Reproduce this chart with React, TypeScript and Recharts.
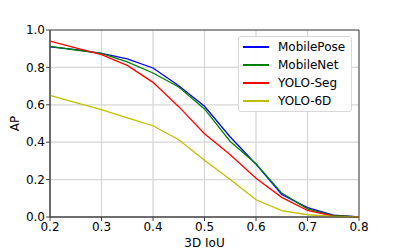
import * as React from 'react';
import { LineChart, Line, XAxis, YAxis, CartesianGrid, ReferenceArea } from 'recharts';

const IOU = [0.2, 0.25, 0.3, 0.35, 0.4, 0.45, 0.5, 0.55, 0.6, 0.65, 0.7, 0.75, 0.8];
const MOBILE_POSE = [0.91, 0.895, 0.875, 0.846, 0.797, 0.702, 0.592, 0.428, 0.283, 0.12, 0.05, 0.01, 0.0];
const MOBILE_NET = [0.912, 0.893, 0.875, 0.829, 0.77, 0.695, 0.578, 0.404, 0.285, 0.128, 0.044, 0.008, 0.0];
const YOLO_SEG = [0.94, 0.905, 0.868, 0.811, 0.72, 0.59, 0.445, 0.333, 0.207, 0.105, 0.035, 0.005, 0.0];
const YOLO_6D = [0.65, 0.612, 0.574, 0.53, 0.488, 0.413, 0.303, 0.2, 0.092, 0.034, 0.012, 0.003, 0.0];

const X_TICKS = [0.2, 0.3, 0.4, 0.5, 0.6, 0.7, 0.8];
const Y_TICKS = [0, 0.2, 0.4, 0.6, 0.8, 1.0];

const SERIES = [
  { key: 'MobilePose', values: MOBILE_POSE, color: '#0000ff' },
  { key: 'MobileNet', values: MOBILE_NET, color: '#008000' },
  { key: 'YOLO-Seg', values: YOLO_SEG, color: '#ff0000' },
  { key: 'YOLO-6D', values: YOLO_6D, color: '#bfbf00' },
];

const FONT = '"DejaVu Sans", sans-serif';
const SPINE = '#444';

const data = IOU.map((x, i) => {
  const row: any = { iou: x };
  SERIES.forEach(s => { row[s.key] = s.values[i]; });
  return row;
});

// legend drawn over the plot, like matplotlib's upper right box
const LegendBox = () => (
  <div style={{
    position: 'absolute', left: 238, top: 36,
    width: 114, height: 76, boxSizing: 'border-box', border: '1px solid #d8d8d8',
    borderRadius: 3, background: 'rgba(255,255,255,0.85)', paddingTop: 1,
  }}>
    {SERIES.map(s => (
      <div key={s.key} style={{ display: 'flex', alignItems: 'center', height: 18, fontFamily: FONT, fontSize: 12, color: '#000' }}>
        <div style={{ width: 26, height: 1.3, background: s.color, marginLeft: 4, marginRight: 9 }} />
        <span>{s.key}</span>
      </div>
    ))}
  </div>
);

const tickStyle = { fontFamily: FONT, fontSize: 12, fill: '#000' };

export default function App() {
  return (
    <div style={{ position: 'absolute', left: 0, top: 0, width: 399, height: 249 }}>
      <LineChart width={399} height={249} data={data} margin={{ top: 30, right: 40, left: 0, bottom: 0 }}>
        <CartesianGrid stroke="#d6d6d6" strokeWidth={1.2} />
        <XAxis
          dataKey="iou" type="number" domain={[0.2, 0.8]} ticks={X_TICKS} height={32}
          tickFormatter={(v: number) => v.toFixed(1)} tick={tickStyle}
          tickSize={4} tickMargin={1} stroke={SPINE}
          axisLine={{ stroke: SPINE }} tickLine={{ stroke: SPINE }}
          label={{ value: '3D IoU', position: 'insideBottom', offset: 2, style: { fontFamily: FONT, fontSize: 12, fill: '#000' } }}
        />
        <YAxis
          type="number" domain={[0, 1]} ticks={Y_TICKS} width={50}
          tickFormatter={(v: number) => v.toFixed(1)} tick={tickStyle}
          tickSize={4} tickMargin={1} stroke={SPINE}
          axisLine={{ stroke: SPINE }} tickLine={{ stroke: SPINE }}
          label={{
            content: (p: any) => {
              const vb = p.viewBox || { x: 0, y: 30, height: 187 };
              const cx = vb.x + 14.5;
              const cy = vb.y + vb.height / 2;
              return (
                <text x={cx} y={cy} transform={`rotate(-90 ${cx} ${cy})`} textAnchor="middle"
                  dominantBaseline="central" style={{ fontFamily: FONT, fontSize: 12, fill: '#000' }}>AP</text>
              );
            },
          }}
        />
        <ReferenceArea x1={0.2} x2={0.8} y1={0} y2={1} fill="none" fillOpacity={0} stroke={SPINE} strokeWidth={1} />
        {SERIES.map(s => (
          <Line key={s.key} dataKey={s.key} stroke={s.color} strokeWidth={1.3} dot={false}
            type="linear" isAnimationActive={false} />
        ))}
      </LineChart>
      <LegendBox />
    </div>
  );
}
